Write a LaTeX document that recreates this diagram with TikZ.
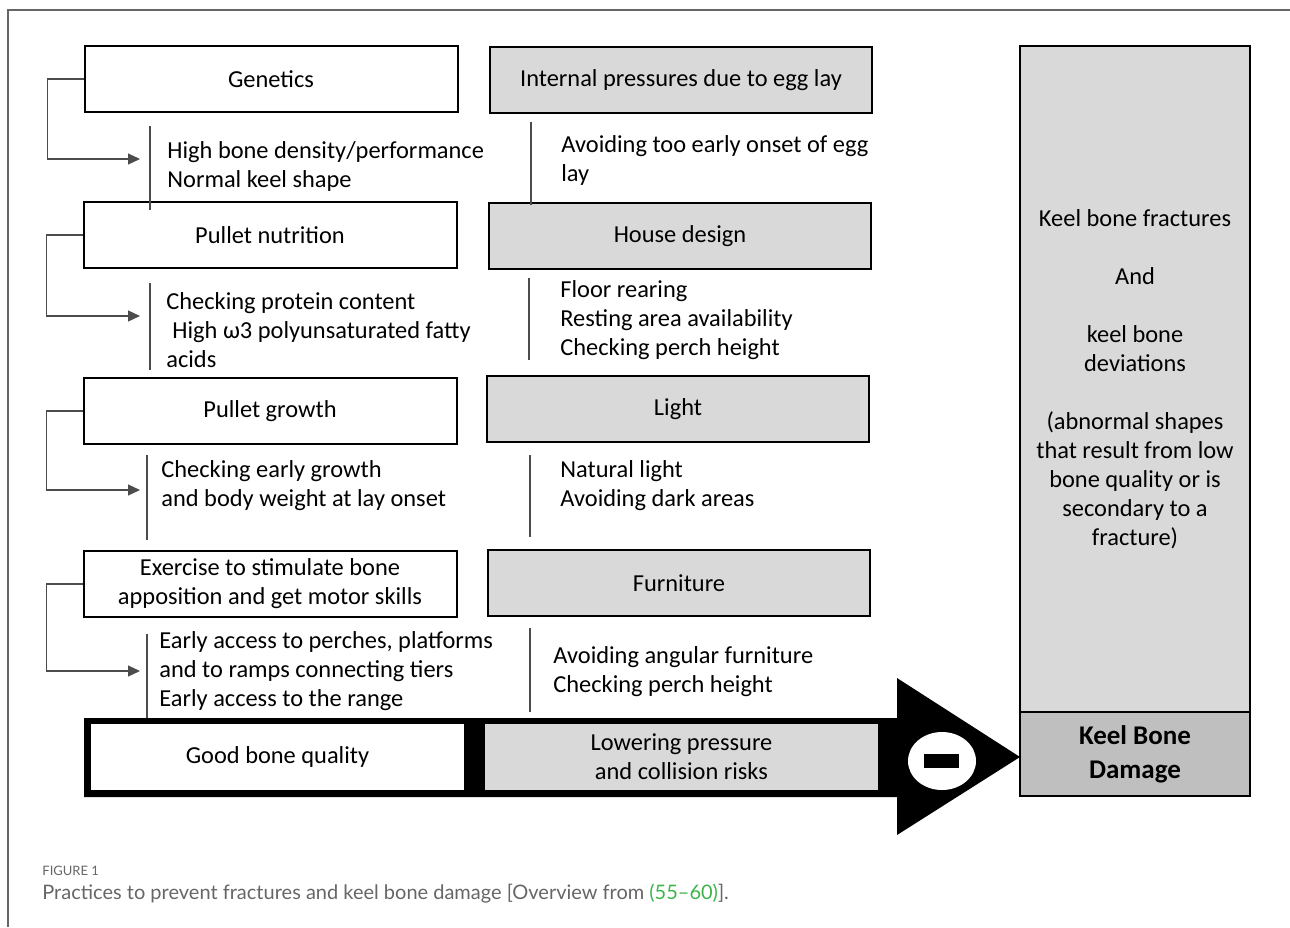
\documentclass[tikz,border=0pt]{standalone}
\usepackage{fontspec}
\setmainfont{Carlito}
\newfontfamily\capfont{Lato}
\usetikzlibrary{arrows.meta}
\definecolor{boxgray}{HTML}{D9D9D9}
\definecolor{damagegray}{HTML}{BFBFBF}
\definecolor{capgreen}{HTML}{3DB54A}
\tikzstyle{factor}=[draw,line width=1pt,fill=white,minimum width=186.5pt,minimum height=33pt,inner sep=0pt,align=center]
\tikzstyle{risk}=[factor,fill=boxgray,minimum width=191pt]
\tikzstyle{practice}=[anchor=west,align=left,inner sep=0pt]
\tikzstyle{link}=[draw,line width=0.6pt,black!70,-{Triangle[length=6pt,width=5.5pt]}]
\tikzstyle{bar}=[draw,line width=0.6pt,black!70]
\tikzstyle{outcome}=[draw,line width=1pt,minimum width=115pt,inner sep=0pt,align=center]

\begin{document}
\begin{tikzpicture}[x=0.5pt,y=-0.5pt,font=\fontsize{12.2}{14.5}\selectfont]
	\useasboundingbox (0,0) rectangle (1290,927);
	\draw[black!60,line width=0.7pt] (1290,10) -- (8,10) -- (8,927);

	% First we draw the boxes
	\foreach \pos/\name/\txt in {{(271,79)/gen/Genetics}, {(270,235)/nut/Pullet nutrition},
								{(270,411)/gro/Pullet growth}, {(270,584)/exe/{Exercise to stimulate bone\\apposition and get motor skills}}}
	\node[factor] (\name) at \pos {\txt};

	\foreach \pos/\name/\txt in {{(681,80)/ipr/Internal pressures due to egg lay}, {(680,236)/hou/House design},
								{(678,409)/lig/Light}, {(679,583)/fur/Furniture}}
	\node[risk] (\name) at \pos {\txt};

	% Practices under each box
	\node[practice] (gtxt) at (167,166) {High bone density/performance\\Normal keel shape};
	\node[practice] (ntxt) at (166,330) {Checking protein content\\\hspace*{3pt}High ω3 polyunsaturated fatty\\acids};
	\node[practice] (grtxt) at (161,486) {Checking early growth\\and body weight at lay onset};
	\node[practice] (etxt) at (159,671) {Early access to perches, platforms\\and to ramps connecting tiers\\Early access to the range};
	\node[practice] (itxt) at (561,160) {Avoiding too early onset of egg\\lay};
	\node[practice] (htxt) at (560,320) {Floor rearing\\Resting area availability\\Checking perch height};
	\node[practice] (ltxt) at (560,486) {Natural light\\Avoiding dark areas};
	\node[practice] (ftxt) at (553,672) {Avoiding angular furniture\\Checking perch height};

	\foreach \x/\ya/\yb in {150/126/210, 150/283/370, 147/455/540, 147/634/718,
							531/122/205, 529/278/360, 530/455/537, 530/628/712}
	\draw[bar] (\x,\ya) -- (\x,\yb);

	% Connect each box with its practices
	\coordinate (gpt) at (140,159);
	\coordinate (npt) at (140,316);
	\coordinate (grpt) at (140,490);
	\coordinate (ept) at (140,671);
	\foreach \src/\dst in {gen/gpt, nut/npt, gro/grpt, exe/ept}
	\path[link] (\src.west) -- ++(-36,0) |- (\dst);

	% The big arrow
	\fill (84,718) -- (897,718) -- (897,678) -- (1020,757) -- (897,835) -- (897,797) -- (84,797) -- cycle;
	\node[fill=white,minimum width=186.5pt,minimum height=33pt,inner sep=0pt] (good) at (277.5,757) {Good bone quality};
	\node[fill=boxgray,minimum width=196.5pt,minimum height=33pt,inner sep=0pt,align=center] (lower) at (681.5,757) {Lowering pressure\\and collision risks};
	\fill[white] (942,761) ellipse [x radius=34, y radius=29];
	\fill (924,754) rectangle (959,768);

	% Outcome
	\node[outcome,fill=boxgray,minimum height=333pt] (kbf) at (1135,379) {Keel bone fractures\\[14.5pt]And\\[14.5pt]keel bone\\deviations\\[14.5pt](abnormal shapes\\that result from low\\bone quality or is\\secondary to a\\fracture)};
	\node[outcome,fill=damagegray,minimum height=42pt,font=\fontsize{13.5}{17}\selectfont\bfseries] (kbd) at (1135,754) {Keel Bone\\Damage};

	% Caption
	\node[anchor=base west,inner sep=0pt,text=black!60,font=\capfont\fontsize{6.5}{8}\selectfont] (fig) at (42,875) {FIGURE 1};
	\node[anchor=base west,inner sep=0pt,text=black!60,font=\capfont\fontsize{10}{12}\selectfont] (cap) at (42,899) {Practices to prevent fractures and keel bone damage [Overview from \textcolor{capgreen}{(55–60)}].};
\end{tikzpicture}
\end{document}
